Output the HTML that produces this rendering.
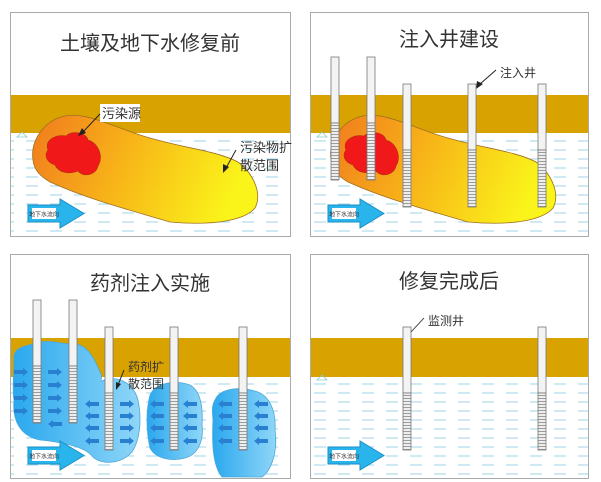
<!DOCTYPE html>
<html><head><meta charset="utf-8"><style>
html,body{margin:0;padding:0;background:#fff;}
svg{display:block;}
text{font-family:"Liberation Sans","Noto Sans CJK SC",sans-serif;fill:#333;}
</style></head><body>
<svg width="601" height="482" viewBox="0 0 601 482" xmlns="http://www.w3.org/2000/svg">
<defs>
<linearGradient id="pl" x1="0" x2="1" y1="0" y2="0.2">
<stop offset="0" stop-color="#f07a1e"/><stop offset="0.5" stop-color="#f8b818"/><stop offset="1" stop-color="#faf41a"/></linearGradient>
<linearGradient id="bl" x1="0" x2="1" y1="0" y2="0">
<stop offset="0" stop-color="#2aa8ee"/><stop offset="1" stop-color="#8fd6f8"/></linearGradient>
<pattern id="scr" width="8" height="3" patternUnits="userSpaceOnUse"><rect width="8" height="3" fill="#eee"/><line x1="0" y1="2.5" x2="8" y2="2.5" stroke="#888" stroke-width="0.8"/></pattern>
<pattern id="wat" width="24" height="9" patternUnits="userSpaceOnUse" x="0" y="2"><rect width="24" height="9" fill="#fff"/><line x1="2" y1="4" x2="14" y2="4" stroke="#9fd4e6" stroke-width="1"/></pattern>
<g id="arrow"><polygon points="0,6 32,6 32,0 56,14.5 32,29 32,23 0,23" fill="#29b5ec" stroke="#1a8fc6" stroke-width="1"/><rect x="4" y="9" width="24" height="11" fill="#fff"/><text x="16" y="17.5" font-size="6" text-anchor="middle" fill="#225">地下水流向</text></g>
<path id="plume" d="M33,160 C30,140 45,120 65,116 C85,112 110,125 140,135 C180,148 215,150 238,162 C255,175 262,195 255,208 C245,220 215,226 170,222 C130,210 90,200 50,182 C40,176 34,170 33,160 Z"/>
<polygon id="ar" points="0,-2 9,-2 9,-4 14,0 9,4 9,2 0,2" fill="#2a80d0"/>
<polygon id="al" points="14,-2 5,-2 5,-4 0,0 5,4 5,2 14,2" fill="#2a80d0"/>
</defs>

<g stroke="#aaa" stroke-width="1">
<rect x="10.5" y="12.5" width="280" height="224" fill="#fff"/>
<rect x="310.5" y="12.5" width="278" height="224" fill="#fff"/>
<rect x="10.5" y="254.5" width="280" height="224" fill="#fff"/>
<rect x="310.5" y="254.5" width="278" height="224" fill="#fff"/>
</g>
<rect x="11" y="133" width="279" height="103" fill="url(#wat)"/>
<rect x="311" y="133" width="277" height="103" fill="url(#wat)"/>
<rect x="11" y="377" width="279" height="101" fill="url(#wat)"/>
<rect x="311" y="377" width="277" height="101" fill="url(#wat)"/>
<rect x="11" y="95" width="279" height="38" fill="#d8a200"/>
<rect x="311" y="95" width="277" height="38" fill="#d8a200"/>
<rect x="11" y="338" width="279" height="39" fill="#d8a200"/>
<rect x="311" y="338" width="277" height="39" fill="#d8a200"/>
<g fill="none" stroke="#8cc" stroke-width="0.8">
<polygon points="22,132 17,137 27,137"/><polygon points="322,132 317,137 327,137"/>
<polygon points="322,375 317,380 327,380"/></g>

<text x="150" y="50" font-size="20" text-anchor="middle">土壤及地下水修复前</text>
<text x="449" y="46" font-size="20" text-anchor="middle">注入井建设</text>
<text x="150" y="290" font-size="20" text-anchor="middle">药剂注入实施</text>
<text x="449" y="288" font-size="20" text-anchor="middle">修复完成后</text>

<use href="#plume" fill="url(#pl)" stroke="#a07020" stroke-width="0.8"/>
<path d="M48,150 C44,140 56,134 66,136 C72,130 86,132 88,140 C98,143 104,156 98,166 C96,175 84,178 78,171 C68,175 58,172 55,165 C46,162 44,155 48,150Z" fill="#f01818" stroke="#b03010" stroke-width="0.6"/>
<rect x="100" y="104" width="40" height="18" fill="#fff"/>
<text x="102" y="118" font-size="13">污染源</text>
<line x1="100" y1="114" x2="82" y2="133" stroke="#222" stroke-width="1"/>
<polygon points="78,136 82,128 86,133" fill="#222"/>
<text x="240" y="152" font-size="13">污染物扩</text>
<text x="240" y="170" font-size="13">散范围</text>
<line x1="236" y1="150" x2="226" y2="168" stroke="#222"/>
<polygon points="223,173 223,164 229,167" fill="#222"/>
<use href="#arrow" x="28" y="199"/>

<g transform="translate(298,0)"><use href="#plume" fill="url(#pl)" stroke="#a07020" stroke-width="0.8"/>
<path d="M48,150 C44,140 56,134 66,136 C72,130 86,132 88,140 C98,143 104,156 98,166 C96,175 84,178 78,171 C68,175 58,172 55,165 C46,162 44,155 48,150Z" fill="#f01818" stroke="#b03010" stroke-width="0.6"/></g>
<use href="#arrow" x="328" y="199"/>
<text x="500" y="77" font-size="12">注入井</text>
<line x1="496" y1="70" x2="480" y2="84" stroke="#222"/>
<polygon points="476,89 477,81 483,84" fill="#222"/>

<g stroke="#777" stroke-width="0.8">
<rect x="331" y="57" width="8" height="66" fill="#f3f3f3"/><rect x="331" y="123" width="8" height="57" fill="url(#scr)"/>
<rect x="367" y="57" width="8" height="66" fill="#f3f3f3"/><rect x="367" y="123" width="8" height="57" fill="url(#scr)"/>
<rect x="403" y="84" width="8" height="66" fill="#f3f3f3"/><rect x="403" y="150" width="8" height="57" fill="url(#scr)"/>
<rect x="468" y="84" width="8" height="66" fill="#f3f3f3"/><rect x="468" y="150" width="8" height="57" fill="url(#scr)"/>
<rect x="538" y="84" width="8" height="66" fill="#f3f3f3"/><rect x="538" y="150" width="8" height="57" fill="url(#scr)"/>
</g>

<g fill="url(#bl)" stroke="#4aa8d8" stroke-width="0.8">
<path d="M14,360 C12,345 30,346 40,342 C55,340 65,345 75,344 C88,345 95,360 100,372 C104,378 98,384 104,380 C120,375 134,385 138,400 C142,420 140,440 132,452 C120,465 100,465 92,456 C84,446 60,442 40,440 C20,436 12,420 14,400 C12,390 14,375 14,360Z"/>
<path d="M150,395 C156,382 176,380 190,385 C202,392 203,410 202,425 C204,440 198,455 185,458 C170,462 155,458 150,448 C146,430 146,410 150,395Z"/>
<path d="M215,400 C220,388 240,386 258,392 C272,398 276,415 275,430 C278,450 272,470 262,477 L222,477 C212,465 212,440 213,420 C212,410 212,405 215,400Z"/>
</g>
<use href="#ar" x="14" y="372"/><use href="#ar" x="14" y="385"/><use href="#ar" x="14" y="398"/><use href="#ar" x="14" y="411"/>
<use href="#ar" x="48" y="372"/><use href="#ar" x="48" y="385"/><use href="#ar" x="48" y="398"/><use href="#ar" x="48" y="411"/>
<use href="#al" x="48" y="424"/>
<use href="#al" x="85" y="404"/><use href="#al" x="85" y="416"/><use href="#al" x="85" y="428"/><use href="#al" x="85" y="441"/>
<use href="#ar" x="120" y="404"/><use href="#ar" x="120" y="416"/><use href="#ar" x="120" y="428"/><use href="#ar" x="120" y="441"/>
<use href="#al" x="150" y="404"/><use href="#al" x="150" y="416"/><use href="#al" x="150" y="428"/><use href="#al" x="150" y="441"/>
<use href="#al" x="183" y="404"/><use href="#al" x="183" y="416"/><use href="#al" x="183" y="428"/><use href="#al" x="183" y="441"/>
<use href="#al" x="218" y="404"/><use href="#al" x="218" y="416"/><use href="#al" x="218" y="428"/><use href="#al" x="218" y="441"/>
<use href="#al" x="254" y="404"/><use href="#al" x="254" y="416"/><use href="#al" x="254" y="428"/><use href="#al" x="254" y="441"/>
<g stroke="#777" stroke-width="0.8">
<rect x="33" y="300" width="8" height="66" fill="#f3f3f3"/><rect x="33" y="366" width="8" height="57" fill="url(#scr)"/>
<rect x="69" y="300" width="8" height="66" fill="#f3f3f3"/><rect x="69" y="366" width="8" height="57" fill="url(#scr)"/>
<rect x="105" y="327" width="8" height="66" fill="#f3f3f3"/><rect x="105" y="393" width="8" height="57" fill="url(#scr)"/>
<rect x="170" y="327" width="8" height="66" fill="#f3f3f3"/><rect x="170" y="393" width="8" height="57" fill="url(#scr)"/>
<rect x="239" y="327" width="8" height="66" fill="#f3f3f3"/><rect x="239" y="393" width="8" height="57" fill="url(#scr)"/>
</g>
<text x="128" y="371" font-size="12">药剂扩</text>
<text x="128" y="388" font-size="12">散范围</text>
<line x1="124" y1="370" x2="118" y2="385" stroke="#222"/>
<polygon points="116,390 116,382 121,384" fill="#222"/>
<use href="#arrow" x="28" y="441"/>

<g stroke="#777" stroke-width="0.8">
<rect x="403" y="327" width="8" height="66" fill="#f3f3f3"/><rect x="403" y="393" width="8" height="57" fill="url(#scr)"/>
<rect x="538" y="327" width="8" height="66" fill="#f3f3f3"/><rect x="538" y="393" width="8" height="57" fill="url(#scr)"/>
</g>
<text x="428" y="325" font-size="12">监测井</text>
<line x1="424" y1="318" x2="411" y2="332" stroke="#555"/>
<use href="#arrow" x="328" y="441"/>
</svg>
</body></html>
